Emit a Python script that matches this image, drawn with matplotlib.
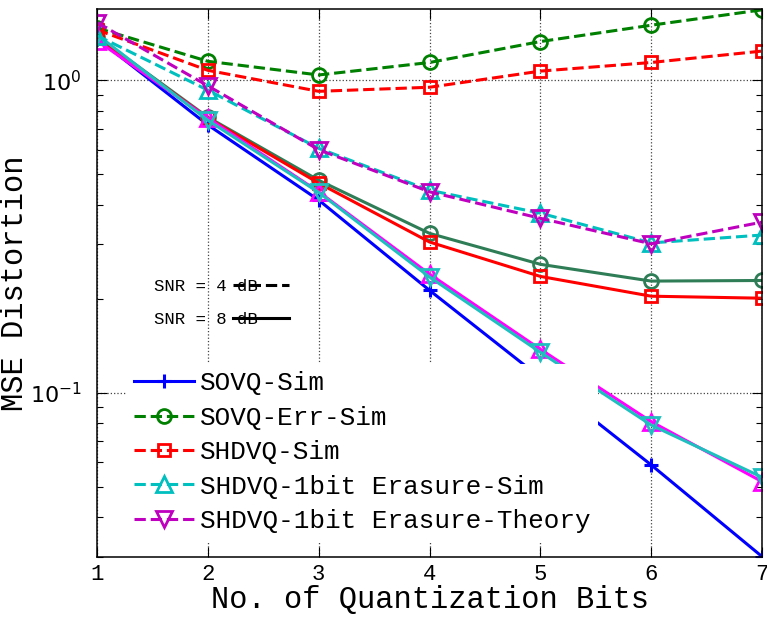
import numpy as np
import matplotlib
matplotlib.use("Agg")
import matplotlib.pyplot as plt
from matplotlib.lines import Line2D

# quantization bits
bits = [1, 2, 3, 4, 5, 6, 7]

# SNR = 8 dB (solid)
sovq_sim_8 = [1.36, 0.72, 0.414, 0.213, 0.112, 0.0589, 0.030]
sovq_err_8 = [1.38, 0.762, 0.479, 0.324, 0.258, 0.228, 0.229]
shdvq_sim_8 = [1.37, 0.757, 0.469, 0.304, 0.236, 0.204, 0.201]
shdvq_ers_sim_8 = [1.40, 0.745, 0.438, 0.235, 0.135, 0.079, 0.0538]
shdvq_ers_thy_8 = [1.34, 0.757, 0.44, 0.24, 0.138, 0.081, 0.0521]

# SNR = 4 dB (dashed)
sovq_err_4 = [1.47, 1.15, 1.04, 1.14, 1.33, 1.50, 1.68]
shdvq_sim_4 = [1.45, 1.076, 0.922, 0.95, 1.07, 1.14, 1.24]
shdvq_ers_sim_4 = [1.39, 0.93, 0.606, 0.445, 0.376, 0.302, 0.32]
shdvq_ers_thy_4 = [1.53, 0.96, 0.60, 0.44, 0.362, 0.30, 0.352]

labels = ["SOVQ-Sim", "SOVQ-Err-Sim", "SHDVQ-Sim",
          "SHDVQ-1bit Erasure-Sim", "SHDVQ-1bit Erasure-Theory"]

mono = "Liberation Mono"
lw = 2.2
ms = 10

fig = plt.figure(figsize=(7.67, 6.18), dpi=100)
ax = fig.add_axes([0.1265, 0.0987, 0.867, 0.8867])

# solid, SNR = 8 dB
ax.plot(bits, sovq_sim_8, "-", color="#0000FF", lw=lw, marker="+", ms=ms, mew=2.2)
ax.plot(bits, sovq_err_8, "-", color="#2E7D57", lw=lw, marker="o", ms=ms, mfc="none", mew=2)
ax.plot(bits, shdvq_sim_8, "-", color="#FF0000", lw=lw, marker="s", ms=ms - 1, mfc="none", mew=2)
ax.plot(bits, shdvq_ers_thy_8, "-", color="#FF00FF", lw=lw, marker="^", ms=ms + 1, mfc="none", mew=2)
ax.plot(bits, shdvq_ers_sim_8, "-", color="#1FBFBF", lw=lw, marker="v", ms=ms + 1, mfc="none", mew=2)

# dashed, SNR = 4 dB
h = [Line2D([], [], color="#0000FF", lw=lw, marker="+", ms=ms, mew=2.2)]
h += ax.plot(bits, sovq_err_4, "--", color="#008000", lw=lw, marker="o", ms=ms, mfc="none", mew=2)
h += ax.plot(bits, shdvq_sim_4, "--", color="#FF0000", lw=lw, marker="s", ms=ms - 1, mfc="none", mew=2)
h += ax.plot(bits, shdvq_ers_sim_4, "--", color="#00BFBF", lw=lw, marker="^", ms=ms + 1, mfc="none", mew=2)
h += ax.plot(bits, shdvq_ers_thy_4, "--", color="#BF00BF", lw=lw, marker="v", ms=ms + 1, mfc="none", mew=2)

ax.set_yscale("log")
ax.set_xlim(1, 7)
ax.set_ylim(0.0299, 1.69)
ax.set_xticks(bits)
ax.grid(True, which="major", linestyle=":", color="#444444", lw=0.9)
ax.tick_params(which="both", direction="in", top=True, right=True)
ax.tick_params(which="major", length=7, width=0.8)
ax.tick_params(which="minor", length=4, width=0.8)
ax.tick_params(axis="x", labelsize=16, pad=5)
ax.tick_params(axis="y", labelsize=16, pad=11)
for t in ax.get_xticklabels():
    t.set_fontfamily(mono)
for s in ax.spines.values():
    s.set_linewidth(1.1)

ax.set_xlabel("No. of Quantization Bits", fontsize=22, family=mono, labelpad=0)
ax.set_ylabel("MSE Distortion", fontsize=22, family=mono, labelpad=0)

leg = ax.legend(h, labels, loc="lower left", bbox_to_anchor=(0.025, 0.006),
                prop={"family": mono, "size": 18.7}, handlelength=2.3,
                handletextpad=0.22, labelspacing=0.4, borderpad=0.3,
                fancybox=False, framealpha=1, edgecolor="none", facecolor="white")
ax.add_artist(leg)

snr_h = [Line2D([], [], color="black", lw=2.2, ls="--"),
         Line2D([], [], color="black", lw=2.2, ls="-")]
ax.legend(snr_h, ["SNR = 4 dB", "SNR = 8 dB"], loc="upper left",
          bbox_to_anchor=(0.062, 0.536), markerfirst=False, frameon=False,
          prop={"family": mono, "size": 12.5}, handlelength=3.2,
          handletextpad=-1.4, labelspacing=1.0)

fig.savefig("out.png", dpi=100)
